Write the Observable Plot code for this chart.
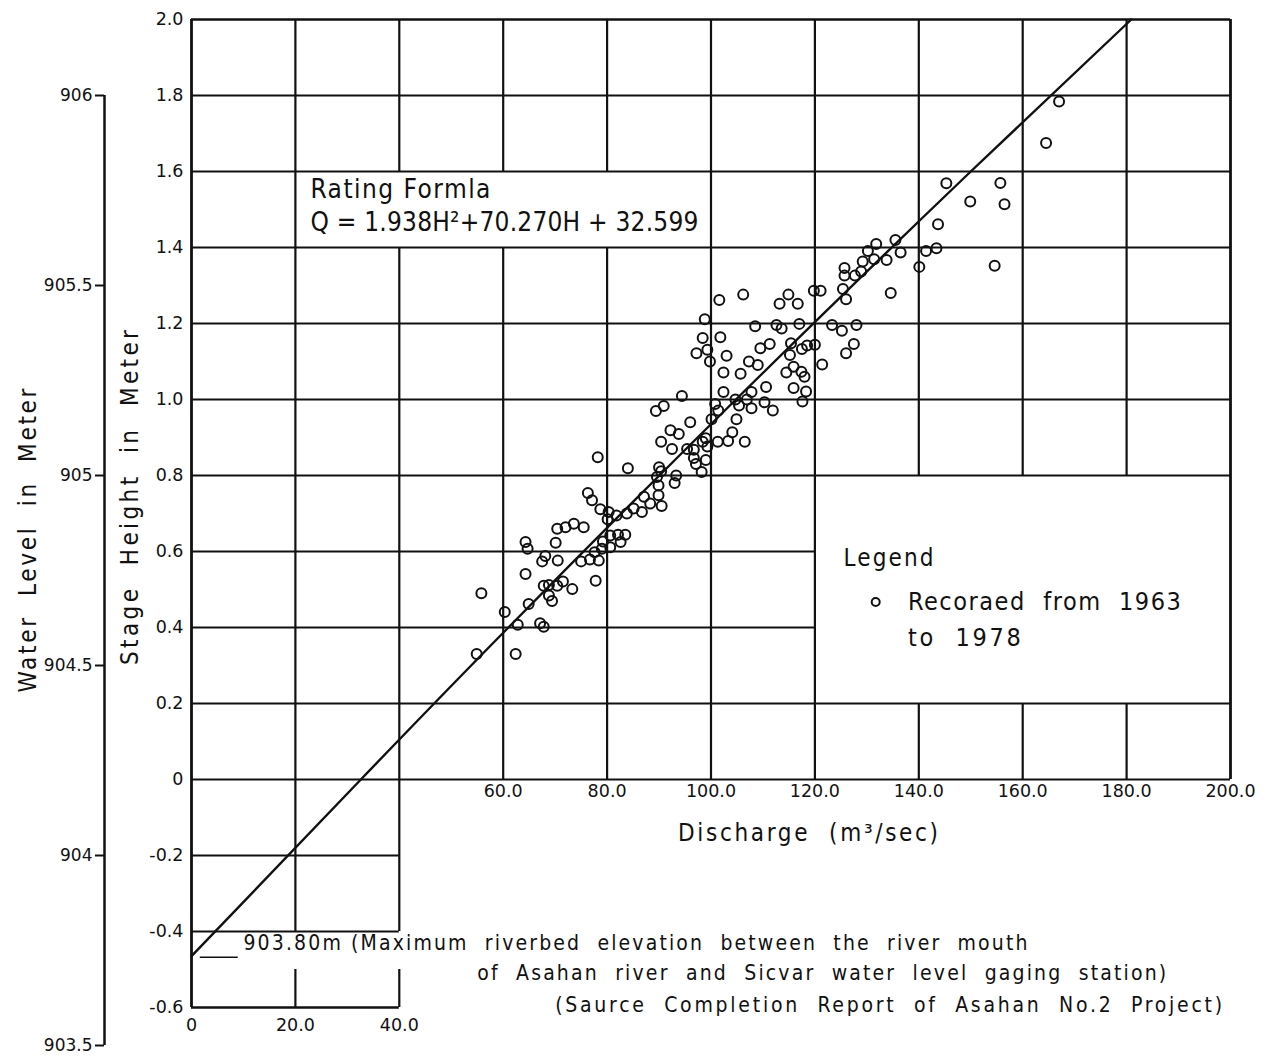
<!DOCTYPE html>
<html>
<head>
<meta charset="utf-8">
<script src="https://cdn.jsdelivr.net/npm/d3@7"></script>
<script src="https://cdn.jsdelivr.net/npm/@observablehq/plot@0.6"></script>
<style>
  html, body { margin: 0; padding: 0; background: #fff; }
  #chart svg { display: block; }
</style>
</head>
<body>
<div id="chart"></div>
<script>
// ---------------- DATA ----------------
// Observed discharge (m3/sec) and stage height (m), recorded 1963-1978
const discharge = [
  55.8,54.9,60.3,62.4,62.8,64.9,64.3,64.3,64.7,67.1,67.8,67.5,68.1,70.5,70.1,70.4,72.0,73.6,75.5,76.3,
  77.1,67.8,68.8,70.4,71.5,73.3,68.8,69.4,77.8,75.0,76.7,78.4,77.6,79.0,79.2,80.6,80.6,82.1,83.5,82.6,
  78.7,80.3,80.1,81.8,83.8,85.1,86.7,87.1,88.3,89.6,89.9,89.9,90.5,
  89.4,90.9,92.2,90.4,92.5,78.2,84.0,90.0,90.4,
  101.6,106.2,113.2,114.9,116.7,119.8,121.1,125.4,126.0,125.7,127.7,98.8,108.5,112.6,113.6,117.0,123.3,125.2,128.0,
  98.4,101.8,97.2,99.3,99.8,103.0,109.5,111.3,115.4,117.5,118.5,120.0,127.5,126.0,107.3,109.0,102.4,105.7,
  115.2,115.9,114.5,117.4,118.0,121.4,110.6,115.9,118.3,102.4,107.8,94.4,104.7,106.9,110.3,117.6,100.8,105.4,
  107.8,111.9,101.4,104.9,100.1,96.0,
  93.8,95.4,96.7,98.4,99.0,99.3,96.7,97.1,99.0,98.2,101.3,103.3,104.1,106.5,93.3,93.0,
  167.0,164.5,145.3,155.7,149.9,156.5,143.7,135.5,131.8,130.2,136.5,141.4,143.4,140.1,154.6,129.2,131.4,133.8,
  125.7,128.9,134.6
];
const stage = [
  0.490,0.330,0.441,0.330,0.407,0.462,0.541,0.625,0.607,0.411,0.402,0.574,0.588,0.576,0.623,0.660,0.664,0.673,0.664,0.754,
  0.735,0.510,0.512,0.510,0.521,0.501,0.484,0.470,0.523,0.574,0.579,0.576,0.598,0.607,0.626,0.611,0.642,0.644,0.644,0.625,
  0.711,0.704,0.685,0.695,0.700,0.713,0.704,0.744,0.726,0.796,0.774,0.748,0.720,
  0.970,0.983,0.919,0.889,0.870,0.848,0.819,0.822,0.811,
  1.262,1.276,1.252,1.276,1.252,1.286,1.286,1.291,1.264,1.326,1.326,1.211,1.193,1.196,1.187,1.199,1.196,1.181,1.196,
  1.162,1.164,1.122,1.131,1.100,1.115,1.135,1.146,1.148,1.133,1.142,1.144,1.146,1.122,1.100,1.091,1.071,1.068,
  1.117,1.086,1.071,1.073,1.060,1.092,1.033,1.030,1.021,1.020,1.020,1.009,1.000,1.000,0.993,0.995,0.988,0.984,
  0.977,0.971,0.971,0.948,0.948,0.940,
  0.909,0.870,0.868,0.889,0.898,0.876,0.846,0.830,0.841,0.809,0.889,0.891,0.914,0.889,0.800,0.780,
  1.784,1.675,1.569,1.570,1.521,1.514,1.461,1.420,1.409,1.391,1.387,1.391,1.398,1.349,1.352,1.363,1.369,1.367,
  1.346,1.337,1.280
];
// Rating curve, points
const ratingStage     = [-0.465, 0, 0.4, 1.0, 1.6, 2.0];
const ratingDischarge = [0, 32.6, 61.0, 104.8, 150.0, 180.9];

// Ticks and grid
const stageTicks = [-0.6, -0.4, -0.2, 0, 0.2, 0.4, 0.6, 0.8, 1.0, 1.2, 1.4, 1.6, 1.8, 2.0];
const dischargeGrid = [0, 20, 40, 60, 80, 100, 120, 140, 160, 180, 200];
const dischargeTicksUpper = [60, 80, 100, 120, 140, 160, 180, 200];
const dischargeTicksLower = [0, 20, 40];
const waterLevelTicks = [903.5, 904, 904.5, 905, 905.5, 906];
const gaugeZero = 904.2; // water level = stage height + 904.2 m

// Texts
const formulaLines = ["Rating Formla", "Q = 1.938H\u00B2+70.270H + 32.599"];
const legendTitle = ["Legend"];
const legendLines = ["Recoraed  from  1963", "to  1978"];
const noteLines = [
  "903.80m (Maximum  riverbed  elevation  between  the  river  mouth",
  "of  Asahan  river  and  Sicvar  water  level  gaging  station)",
  "(Saurce  Completion  Report  of  Asahan  No.2  Project)"
];
const xTitle = ["Discharge  (m\u00B3/sec)"];
const stageTitle = ["Stage  Height  in  Meter"];
const waterTitle = ["Water  Level  in  Meter"];

// ---------------- LAYOUT ----------------
const points = discharge.map((q, i) => ({q, h: stage[i]}));
const rating = ratingDischarge.map((q, i) => ({q, h: ratingStage[i]}));

const textBox = {x1: 20, x2: 100, y1: 1.4, y2: 1.6};
const legendBox = {x1: 120, x2: 200, y1: 0.2, y2: 0.8};
const noteGap = {x1: 0, x2: 40, y1: -0.5, y2: -0.4};

// vertical grid segments
const vSegs = [];
for (const q of dischargeGrid) {
  const lo = q <= 40 ? -0.6 : 0, hi = 2.0;
  const cuts = [];
  if (q > textBox.x1 && q < textBox.x2) cuts.push([textBox.y1, textBox.y2]);
  if (q > legendBox.x1 && q < legendBox.x2) cuts.push([legendBox.y1, legendBox.y2]);
  if (q > noteGap.x1 && q <= noteGap.x2) cuts.push([noteGap.y1, noteGap.y2]);
  cuts.sort((a, b) => a[0] - b[0]);
  let start = lo;
  for (const [c1, c2] of cuts) { vSegs.push({x: q, y1: start, y2: c1}); start = c2; }
  vSegs.push({x: q, y1: start, y2: hi});
}
vSegs.forEach(s => s.frame = (s.x === 0 || s.x === 200));
// horizontal grid segments
const hSegs = [];
for (const h of stageTicks) {
  let x2 = h < 0 ? 40 : 200;
  if (h > legendBox.y1 + 1e-9 && h < legendBox.y2 - 1e-9) x2 = legendBox.x1;
  hSegs.push({y: h, x1: 0, x2, frame: (h === 2.0 || h === -0.6)});
}

const FONT = "'DejaVu Sans', 'Liberation Sans', sans-serif";
const NARROW = "'DejaVu Sans Condensed', 'Liberation Sans Narrow', 'DejaVu Sans', sans-serif";
const fmtStage = d => d === 0 ? "0" : (d < 0 ? "-" + Math.abs(d).toFixed(1) : d.toFixed(1));
const fmtQ = d => d === 0 ? "0" : d.toFixed(1);
const fmtWL = d => String(+(d + gaugeZero).toFixed(1));

const wlMin = d3.min(waterLevelTicks) - gaugeZero, wlMax = d3.max(waterLevelTicks) - gaugeZero;

const chart = Plot.plot({
  width: 1274,
  height: 1057,
  marginLeft: 191,
  marginRight: 44,
  marginTop: 19,
  marginBottom: 12,
  x: {domain: [0, 200], axis: null},
  y: {domain: [-0.7, 2.0]},
  style: {fontFamily: FONT, fontSize: "17px", color: "#111", background: "#fff", overflow: "visible"},
  marks: [
    // grid
    Plot.ruleX(vSegs.filter(d => !d.frame), {x: "x", y1: "y1", y2: "y2", stroke: "#111", strokeWidth: 2.2}),
    Plot.ruleX(vSegs.filter(d => d.frame), {x: "x", y1: "y1", y2: "y2", stroke: "#111", strokeWidth: 2.8}),
    Plot.ruleY(hSegs.filter(d => !d.frame), {y: "y", x1: "x1", x2: "x2", stroke: "#111", strokeWidth: 2.2}),
    Plot.ruleY(hSegs.filter(d => d.frame), {y: "y", x1: "x1", x2: "x2", stroke: "#111", strokeWidth: 2.6}),

    // stage height axis (labels only)
    Plot.axisY(stageTicks, {anchor: "left", tickSize: 0, tickPadding: 8, tickFormat: fmtStage, fontSize: 17.5}),

    // water level axis, offset to the left
    Plot.ruleX([0], {y1: () => wlMin, y2: () => wlMax, dx: -87, stroke: "#111", strokeWidth: 2.5}),
    Plot.axisY(waterLevelTicks.map(w => w - gaugeZero), {anchor: "left", dx: -87, tickSize: 9, tickPadding: 3,
      strokeWidth: 2, tickFormat: fmtWL, fontSize: 17}),

    // discharge tick labels
    Plot.text(dischargeTicksUpper, {x: d => d, y: () => 0, dy: 12, text: fmtQ, fontSize: 17.5}),
    Plot.text(dischargeTicksLower, {x: d => d, y: () => -0.6, dy: 18, text: fmtQ, fontSize: 17.5}),

    // rating curve
    Plot.line(rating, {x: "q", y: "h", stroke: "#111", strokeWidth: 2.4, curve: "natural"}),

    // observations
    Plot.dot(points, {x: "q", y: "h", r: 5, stroke: "#111", strokeWidth: 2, fill: "none"}),

    // rating formula
    Plot.text(formulaLines, {x: () => 22.9, y: (d, i) => [1.552, 1.466][i], text: d => d, textAnchor: "start",
      fontFamily: NARROW, fontSize: 26, ariaDescription: "formula"}),

    // legend
    Plot.text(legendTitle, {x: () => 125.5, y: () => 0.582, text: d => d, textAnchor: "start",
      fontFamily: NARROW, fontSize: 24, ariaDescription: "legend-title"}),
    Plot.dot([0], {x: () => 131.7, y: () => 0.467, r: 4, stroke: "#111", strokeWidth: 2, fill: "none"}),
    Plot.text(legendLines, {x: () => 137.9, y: (d, i) => [0.468, 0.373][i], text: d => d, textAnchor: "start",
      fontFamily: NARROW, fontSize: 25, ariaDescription: "legend-text"}),

    // riverbed note
    Plot.ruleY([ratingStage[0] - 0.003], {x1: () => 1.7, x2: () => 9.0, stroke: "#111", strokeWidth: 1.5}),
    Plot.text(noteLines, {x: (d, i) => [10.0, 55.0, 70.0][i], y: (d, i) => [-0.432, -0.511, -0.595][i],
      text: d => d, textAnchor: "start", fontFamily: NARROW, fontSize: 21, ariaDescription: "note"}),

    // axis titles
    Plot.text(xTitle, {frameAnchor: "top", dx: 97, dy: 814, lineAnchor: "middle", textAnchor: "middle", text: d => d,
      fontFamily: NARROW, fontSize: 24, ariaDescription: "title-x"}),
    Plot.text(stageTitle, {frameAnchor: "left", dx: -61, dy: -35, rotate: -90, textAnchor: "middle", text: d => d,
      fontFamily: NARROW, fontSize: 24, ariaDescription: "title-stage"}),
    Plot.text(waterTitle, {frameAnchor: "left", dx: -163, dy: 8, rotate: -90, textAnchor: "middle", text: d => d,
      fontFamily: NARROW, fontSize: 24, ariaDescription: "title-wl"})
  ]
});

// stretch lettering to the widths seen in the reference
const fit = {
  "formula": [180, 388],
  "legend-title": [90],
  "legend-text": [273, 113],
  "note": [784, 689, 667],
  "title-x": [260],
  "title-stage": [335],
  "title-wl": [304]
};
for (const [label, lens] of Object.entries(fit)) {
  chart.querySelectorAll(`g[aria-description="${label}"] text`).forEach((t, i) => {
    if (lens[i]) { t.setAttribute("textLength", lens[i]); t.setAttribute("lengthAdjust", "spacing"); }
  });
}
document.getElementById("chart").appendChild(chart);
</script>
</body>
</html>
